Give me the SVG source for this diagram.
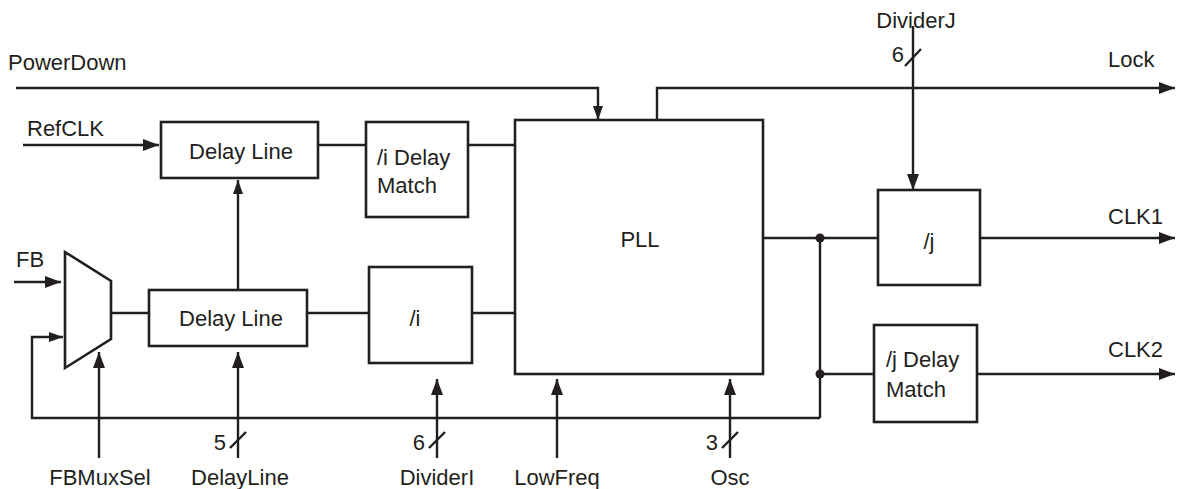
<svg xmlns="http://www.w3.org/2000/svg" width="1178" height="489" viewBox="0 0 1178 489">
<defs>
<style>
.b{fill:#fff;stroke:#231f20;stroke-width:2.6}
.w{fill:none;stroke:#231f20;stroke-width:2.4}
.t{font-family:"Liberation Sans",Arial,sans-serif;font-size:22px;fill:#231f20}
.m{text-anchor:middle}
.e{text-anchor:end}
.a{fill:#231f20}
</style>
<marker id="ah" viewBox="0 0 16 12" refX="16" refY="6" markerWidth="16" markerHeight="12" markerUnits="userSpaceOnUse" orient="auto"><path d="M0,0 L16,6 L0,12 Z" class="a"/></marker>
<marker id="as" viewBox="0 0 14 10" refX="14" refY="5" markerWidth="14" markerHeight="10" markerUnits="userSpaceOnUse" orient="auto"><path d="M0,0 L14,5 L0,10 Z" class="a"/></marker>
</defs>
<g id="connectors">
<path class="w" d="M16,88 H598 V120" marker-end="url(#as)"/>
<path class="w" d="M23,145 H159" marker-end="url(#ah)"/>
<path class="w" d="M14,282 H61" marker-end="url(#ah)"/>
<path class="w" d="M820,418 H32 V337 H63" marker-end="url(#as)"/>
<path class="w" d="M111,313 H149"/>
<path class="w" d="M238,290 V180" marker-end="url(#as)"/>
<path class="w" d="M318,145 H366"/>
<path class="w" d="M468,145 H515"/>
<path class="w" d="M307,313 H369"/>
<path class="w" d="M472,313 H515"/>
<path class="w" d="M99,458 V352" marker-end="url(#ah)"/>
<path class="w" d="M238,458 V352" marker-end="url(#ah)"/>
<path class="w" d="M437,458 V379" marker-end="url(#ah)"/>
<path class="w" d="M557,458 V379" marker-end="url(#ah)"/>
<path class="w" d="M730,458 V379" marker-end="url(#ah)"/>
<path class="w" d="M230,448 L246,432"/>
<path class="w" d="M429,448 L445,432"/>
<path class="w" d="M722,448 L738,432"/>
<path class="w" d="M905,66 L921,49"/>
<path class="w" d="M657,120 V88 H1175" marker-end="url(#ah)"/>
<path class="w" d="M913,26 V190" marker-end="url(#ah)"/>
<path class="w" d="M763,238 H878"/>
<path class="w" d="M820,238 V418"/>
<path class="w" d="M820,374 H874"/>
<circle cx="820" cy="238" r="4.5" class="a"/>
<circle cx="820" cy="374" r="4.5" class="a"/>
<path class="w" d="M980,238 H1175" marker-end="url(#ah)"/>
<path class="w" d="M977,374 H1175" marker-end="url(#ah)"/>
</g>
<g id="mux"><path class="b" d="M65,252 L111,281 L111,339 L65,368 Z"/></g>
<g id="delay-line-top"><rect class="b" x="161" y="122" width="157" height="56"/><text class="t m" x="241" y="159">Delay Line</text></g>
<g id="delay-line-bottom"><rect class="b" x="149" y="290" width="158" height="56"/><text class="t m" x="231" y="326">Delay Line</text></g>
<g id="i-delay-match"><rect class="b" x="366" y="122" width="102" height="95"/><text class="t" x="377" y="165">/i Delay</text><text class="t" x="377" y="193">Match</text></g>
<g id="div-i"><rect class="b" x="369" y="267" width="103" height="96"/><text class="t m" x="415" y="326">/i</text></g>
<g id="pll"><rect class="b" x="515" y="120" width="248" height="254"/><text class="t m" x="640" y="247">PLL</text></g>
<g id="div-j"><rect class="b" x="878" y="190" width="102" height="95"/><text class="t m" x="929" y="249">/j</text></g>
<g id="j-delay-match"><rect class="b" x="874" y="325" width="103" height="97"/><text class="t" x="886" y="367">/j Delay</text><text class="t" x="886" y="397">Match</text></g>
<g id="labels">
<text class="t" x="8" y="70">PowerDown</text>
<text class="t" x="27" y="136">RefCLK</text>
<text class="t" x="16" y="267">FB</text>
<text class="t m" x="100" y="485">FBMuxSel</text>
<text class="t m" x="240" y="485">DelayLine</text>
<text class="t m" x="437" y="485">DividerI</text>
<text class="t m" x="557" y="485">LowFreq</text>
<text class="t m" x="730" y="485">Osc</text>
<text class="t e" x="226" y="450">5</text>
<text class="t e" x="425" y="450">6</text>
<text class="t e" x="718" y="450">3</text>
<text class="t e" x="904" y="62">6</text>
<text class="t m" x="916" y="28">DividerJ</text>
<text class="t" x="1108" y="67">Lock</text>
<text class="t" x="1108" y="224">CLK1</text>
<text class="t" x="1108" y="357">CLK2</text>
</g>
</svg>
